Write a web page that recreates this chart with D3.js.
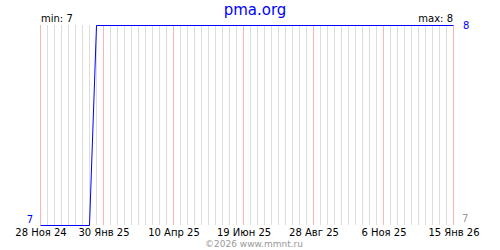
<!DOCTYPE html>
<html>
<head>
<meta charset="utf-8">
<script src="https://cdn.jsdelivr.net/npm/d3@7"></script>
<style>
  body { margin: 0; background: #fff; }
  text { font-family: "DejaVu Sans", Verdana, sans-serif; }
</style>
</head>
<body>
<div id="chart"></div>
<script>
// data
var dates = ["2024-11-28", "2025-01-16", "2025-01-23", "2026-01-15"];
var values = [7, 7, 8, 8];
var tickDates = ["2024-11-28", "2025-01-30", "2025-04-10", "2025-06-19", "2025-08-28", "2025-11-06", "2026-01-15"];
var tickLabels = ["28 Ноя 24", "30 Янв 25", "10 Апр 25", "19 Июн 25", "28 Авг 25", "6 Ноя 25", "15 Янв 26"];
var yMin = 7, yMax = 8;

var svgWidth = 500, svgHeight = 250;
var margin = { top: 25, right: 47, bottom: 25, left: 40 };

var parse = d3.utcParse("%Y-%m-%d");
var data = dates.map(function (d, i) { return { date: parse(d), value: values[i] }; });

var svg = d3.select("#chart").append("svg")
    .attr("width", svgWidth)
    .attr("height", svgHeight);

var x = d3.scaleUtc()
    .domain([parse(dates[0]), parse(tickDates[tickDates.length - 1])])
    .range([margin.left, svgWidth - margin.right]);
var y = d3.scaleLinear()
    .domain([yMin, yMax])
    .range([svgHeight - margin.bottom, margin.top]);

// weekly grid (skip the labelled weeks, they get a pink line)
var ticks = tickDates.map(parse);
var tickSet = new Set(ticks.map(d => +d));
var weeks = d3.utcDay.range(x.domain()[0], d3.utcDay.offset(x.domain()[1], 1), 7)
    .filter(d => !tickSet.has(+d));
svg.append("g").selectAll("line")
    .data(weeks)
    .enter().append("line")
    .attr("x1", d => Math.round(x(d)) + 0.5)
    .attr("x2", d => Math.round(x(d)) + 0.5)
    .attr("y1", y(yMax))
    .attr("y2", y(yMin))
    .attr("stroke", "#dddddd")
    .attr("shape-rendering", "crispEdges");

// labelled grid lines
svg.append("g").selectAll("line")
    .data(ticks)
    .enter().append("line")
    .attr("x1", d => Math.round(x(d)) + 0.5)
    .attr("x2", d => Math.round(x(d)) + 0.5)
    .attr("y1", y(yMax))
    .attr("y2", y(yMin))
    .attr("stroke", "#ffb4b4")
    .attr("shape-rendering", "crispEdges");

svg.append("g").selectAll("text")
    .data(ticks)
    .enter().append("text")
    .attr("x", d => x(d) + 1)
    .attr("y", 236)
    .attr("text-anchor", "middle")
    .attr("font-size", "10px")
    .attr("fill", "#000")
    .text((d, i) => tickLabels[i]);

// series
var line = d3.line()
    .x(d => Math.round(x(d.date)) + 0.5)
    .y(d => Math.round(y(d.value)) + 0.5);
svg.append("path")
    .datum(data)
    .attr("d", line)
    .attr("fill", "none")
    .attr("stroke", "#0000ff")
    .attr("stroke-width", 1);

// texts
svg.append("text")
    .attr("x", 255).attr("y", 15)
    .attr("text-anchor", "middle")
    .attr("font-size", "15px")
    .attr("fill", "#0000ff")
    .text("pma.org");

svg.append("text")
    .attr("x", margin.left + 1).attr("y", 22)
    .attr("font-size", "10px")
    .text("min: " + d3.min(values));

svg.append("text")
    .attr("x", svgWidth - margin.right).attr("y", 22)
    .attr("text-anchor", "end")
    .attr("font-size", "10px")
    .text("max: " + d3.max(values));

svg.append("text")
    .attr("x", svgWidth - margin.right + 10).attr("y", 29)
    .attr("font-size", "10px")
    .attr("fill", "#0000ff")
    .text(yMax);

svg.append("text")
    .attr("x", margin.left - 7).attr("y", 223)
    .attr("text-anchor", "end")
    .attr("font-size", "10px")
    .attr("fill", "#0000ff")
    .text(yMin);

svg.append("text")
    .attr("x", svgWidth - margin.right + 9).attr("y", 222)
    .attr("font-size", "10px")
    .attr("fill", "#999999")
    .text(yMin);

svg.append("text")
    .attr("x", 254).attr("y", 247)
    .attr("text-anchor", "middle")
    .attr("font-size", "9px")
    .attr("fill", "#999999")
    .text("©2026 www.mmnt.ru");
</script>
</body>
</html>
